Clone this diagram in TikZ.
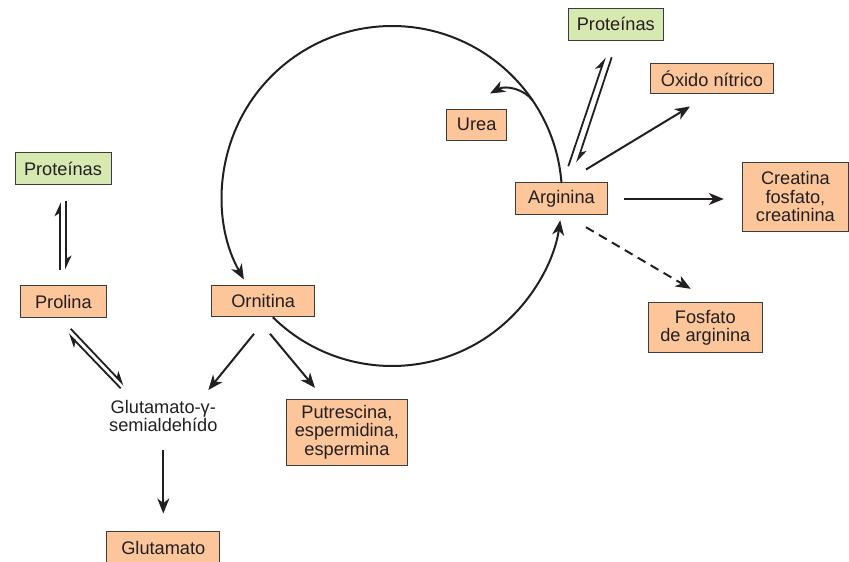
\documentclass[tikz,border=0pt]{standalone}
\usepackage{fontspec}
\setmainfont{Liberation Sans}
\usetikzlibrary{arrows.meta,calc}
\definecolor{boxor}{HTML}{FCC59A}
\definecolor{boxgr}{HTML}{D7E9B1}
\definecolor{ink}{HTML}{231F20}
\definecolor{edgec}{HTML}{3C3C3C}
\begin{document}
\begin{tikzpicture}[x=1pt,y=-1pt,
  font=\fontsize{18.2}{18.5}\selectfont, text=ink,
  box/.style={draw=edgec, line width=1pt, fill=boxor, inner sep=0pt, align=center},
  gbox/.style={box, fill=boxgr},
  arr/.style={draw=ink, line width=2pt, -{Stealth[length=15pt,width=12pt,inset=4.5pt]}},
  harp/.style={draw=ink, line width=1.8pt, -{Stealth[harpoon,length=12pt,width=11pt,inset=3.5pt]}},
  dashedarr/.style={arr, dash pattern=on 9pt off 6pt},
]
\useasboundingbox (0,0) rectangle (849,562);

% nodes
\node[gbox, minimum width=95pt, minimum height=31.7pt] (protR) at (615.8,24.2) {Proteínas};
\node[box, minimum width=122.6pt, minimum height=30pt] (oxido) at (712,78.8) {Óxido nítrico};
\node[box, minimum width=92.7pt, minimum height=31.6pt] (arg) at (561.4,198.5) {Arginina};
\node[box, minimum width=105.3pt, minimum height=68.3pt] (crea) at (795.4,196.9) {Creatina\\fosfato,\\creatinina};
\node[box, minimum width=114pt, minimum height=50pt] (fosf) at (705.3,327.7) {Fosfato\\de arginina};
\node[box, minimum width=60pt, minimum height=31pt] (urea) at (476.7,124.5) {Urea};
\node[box, minimum width=103pt, minimum height=31pt] (orn) at (263.2,301.2) {Ornitina};
\node[gbox, minimum width=96pt, minimum height=31.3pt] (protL) at (63,168.4) {Proteínas};
\node[box, minimum width=85.3pt, minimum height=31.6pt] (prol) at (63.4,301.5) {Prolina};
\node[align=center, inner sep=0pt] (gsa) at (163.3,416) {Glutamato-γ-\\semialdehído};
\node[box, minimum width=121.7pt, minimum height=65.7pt] (putr) at (346.9,432.2) {Putrescina,\\espermidina,\\espermina};
\node[box, minimum width=113.3pt, minimum height=31.6pt] (glut) at (163.3,547.5) {Glutamato};

% urea cycle arcs
\begin{scope}[shift={(392,196)}, y=1pt]
  \coordinate (cArgTop) at (4.4:170);
  \coordinate (cOrnBot) at (225.5:170);
  \coordinate (cUrea) at (34.2:170);
  \draw[arr] (cArgTop) arc[start angle=4.4, end angle=209.4, radius=170];
  \draw[arr] (cOrnBot) arc[start angle=225.5, end angle=351.8, radius=170];
\end{scope}
\draw[arr] (cUrea) .. controls (524,89) and (506,85) .. ($(urea.north)+(13.3,-15)$);

% arginina branches
\draw[arr] ($(arg.east)+(15.6,0.5)$) -- ($(arg.east -| crea.west)+(-18.4,0.5)$);
\draw[arr] ($(arg.north)+(24.6,-12.7)$) -- ($(oxido.south)+(-22,12.2)$);
\draw[dashedarr] ($(arg.south)+(24.6,12.4)$) -- ($(fosf.north)+(-14.6,-13.4)$);
\draw[harp] ($(arg.north)+(6.9,-16)$) -- ($(protR.south)+(-10.8,16.7)$);
\draw[harp] ($(protR.south)+(-4.1,16.7)$) -- ($(arg.north)+(15.6,-19.7)$);

% left side
\draw[harp] ($(prol.north)+(-3.4,-15.7)$) -- ($(protL.south)+(-3,17.7)$);
\draw[harp] ($(protL.south)+(3,16)$) -- ($(prol.north)+(2.6,-15.7)$);
\draw[harp] ($(prol.south)+(7.3,11)$) -- ($(gsa)+(-39.3,-31)$);
\draw[harp] ($(gsa)+(-42.6,-27.7)$) -- ($(prol.south)+(4.9,16)$);

\draw[arr] ($(orn.south)+(-9.2,16.6)$) -- ($(gsa)+(45,-26)$);
\draw[arr] ($(orn.south)+(6.8,16.6)$) -- ($(putr.north)+(-31.9,-11)$);
\draw[arr] ($(gsa)+(0,34)$) -- ($(glut.north)+(0,-17.7)$);
\end{tikzpicture}
\end{document}
